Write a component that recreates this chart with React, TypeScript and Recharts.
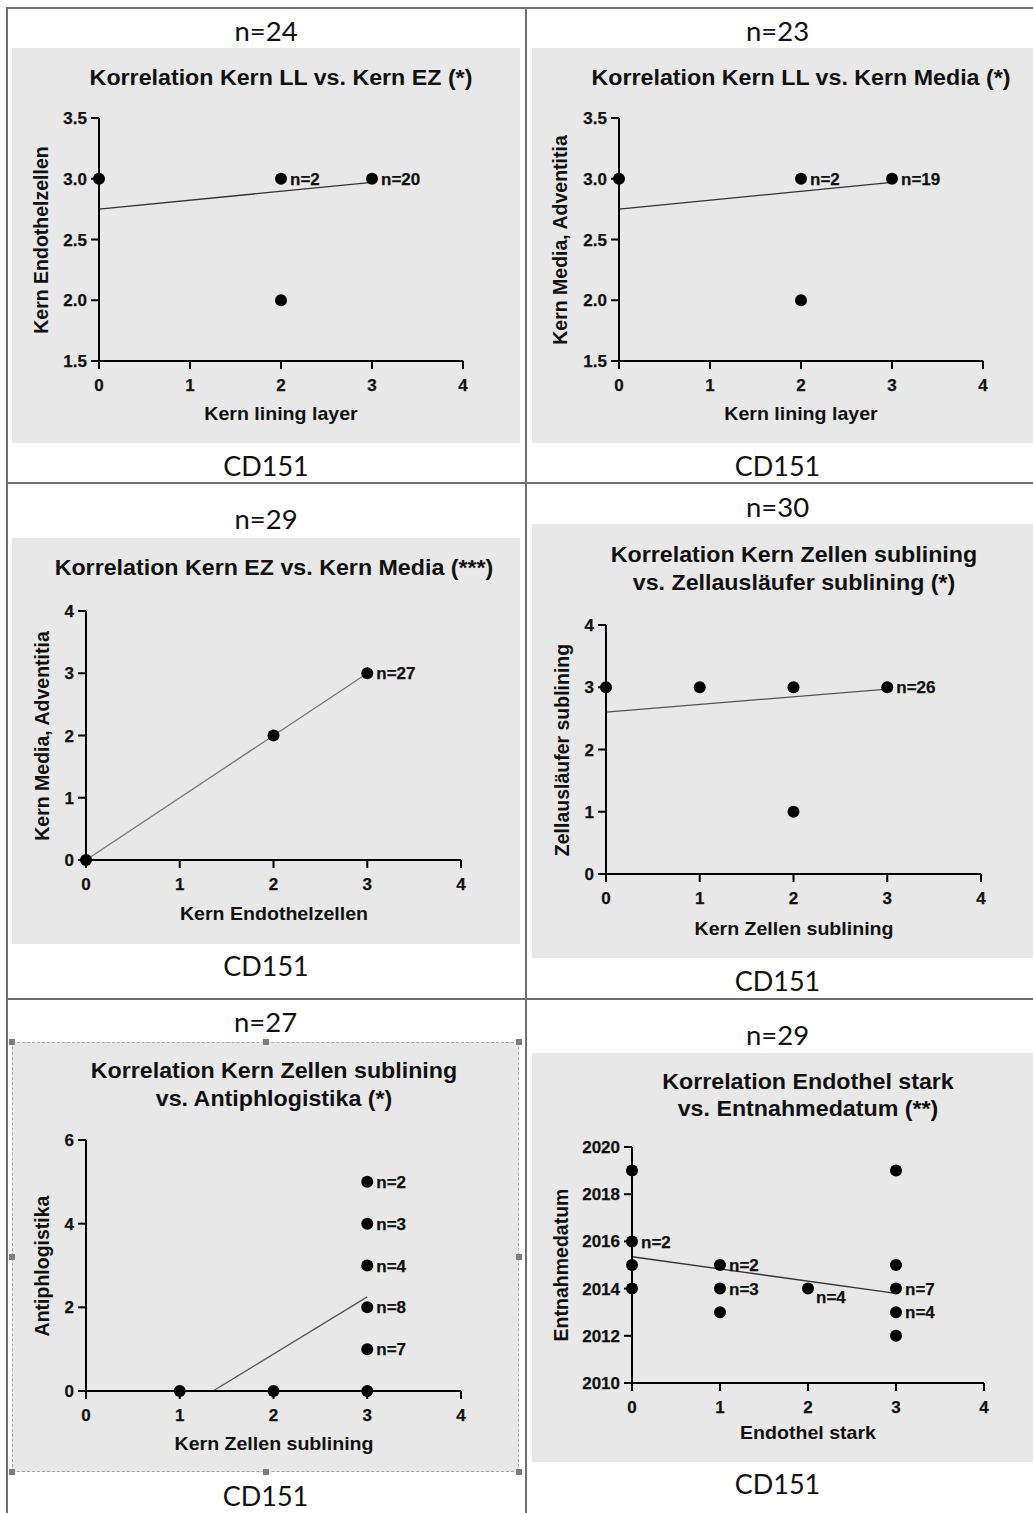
import { ScatterChart, Scatter, XAxis, YAxis, ReferenceLine } from "recharts";

const TICK_FONT = '"Liberation Sans", Arial, sans-serif';
const HEAD_FONT = 'Lato, "Open Sans", sans-serif';

// Kern LL vs. Kern EZ
const llEzX = [0, 2, 3, 2];
const llEzY = [3, 3, 3, 2];
const llEzN = ["", "n=2", "n=20", ""];
const llEzFitX = [0, 3];
const llEzFitY = [2.75, 2.97];

// Kern LL vs. Kern Media
const llMediaX = [0, 2, 3, 2];
const llMediaY = [3, 3, 3, 2];
const llMediaN = ["", "n=2", "n=19", ""];
const llMediaFitX = [0, 3];
const llMediaFitY = [2.75, 2.97];

// Kern EZ vs. Kern Media
const ezMediaX = [0, 2, 3];
const ezMediaY = [0, 2, 3];
const ezMediaN = ["", "", "n=27"];
const ezMediaFitX = [0, 3];
const ezMediaFitY = [0, 3];

// Kern Zellen sublining vs. Zellausläufer sublining
const subZaX = [0, 1, 2, 3, 2];
const subZaY = [3, 3, 3, 3, 1];
const subZaN = ["", "", "", "n=26", ""];
const subZaFitX = [0, 3];
const subZaFitY = [2.6, 2.97];

// Kern Zellen sublining vs. Antiphlogistika
const subAntiX = [1, 2, 3, 3, 3, 3, 3, 3];
const subAntiY = [0, 0, 0, 1, 2, 3, 4, 5];
const subAntiN = ["", "", "", "n=7", "n=8", "n=4", "n=3", "n=2"];
const subAntiFitX = [1.355, 3];
const subAntiFitY = [0, 2.25];

// Endothel stark vs. Entnahmedatum
const endoDateX = [0, 0, 0, 0, 1, 1, 1, 2, 3, 3, 3, 3, 3];
const endoDateY = [2019, 2016, 2015, 2014, 2015, 2014, 2013, 2014, 2019, 2015, 2014, 2013, 2012];
const endoDateN = ["", "n=2", "", "", "n=2", "n=3", "", "n=4", "", "", "n=7", "n=4", ""];
const endoDateFitX = [0, 3];
const endoDateFitY = [2015.35, 2013.8];

const xTicks = [0, 1, 2, 3, 4];

type Panel = {
  header: string;
  footer: string;
  title: string[];
  xLabel: string;
  yLabel: string;
  xs: number[];
  ys: number[];
  ns: string[];
  fitX: number[];
  fitY: number[];
  yDomain: [number, number];
  yTicks: number[];
  decimals: number;
  box: [number, number, number, number];
  plot: [number, number, number, number];
  headerY: number;
  footerY: number;
  titleY: number[];
  xLabelY: number;
  yLabelX: number;
  fitColor: string;
  labelBelow?: number[];
  dashed?: boolean;
};

const panels: Panel[] = [
  {
    header: "n=24", footer: "CD151",
    title: ["Korrelation Kern LL vs. Kern EZ (*)"],
    xLabel: "Kern lining layer", yLabel: "Kern Endothelzellen",
    xs: llEzX, ys: llEzY, ns: llEzN, fitX: llEzFitX, fitY: llEzFitY,
    yDomain: [1.5, 3.5], yTicks: [1.5, 2, 2.5, 3, 3.5], decimals: 1,
    box: [12, 48, 520, 443], plot: [99, 118, 463, 361],
    headerY: 31, footerY: 465, titleY: [79], xLabelY: 413, yLabelX: 42, fitColor: "#333",
  },
  {
    header: "n=23", footer: "CD151",
    title: ["Korrelation Kern LL vs. Kern Media (*)"],
    xLabel: "Kern lining layer", yLabel: "Kern Media, Adventitia",
    xs: llMediaX, ys: llMediaY, ns: llMediaN, fitX: llMediaFitX, fitY: llMediaFitY,
    yDomain: [1.5, 3.5], yTicks: [1.5, 2, 2.5, 3, 3.5], decimals: 1,
    box: [532, 48, 1033, 443], plot: [619, 118, 983, 361],
    headerY: 31, footerY: 465, titleY: [79], xLabelY: 413, yLabelX: 561, fitColor: "#333",
  },
  {
    header: "n=29", footer: "CD151",
    title: ["Korrelation Kern EZ vs. Kern Media (***)"],
    xLabel: "Kern Endothelzellen", yLabel: "Kern Media, Adventitia",
    xs: ezMediaX, ys: ezMediaY, ns: ezMediaN, fitX: ezMediaFitX, fitY: ezMediaFitY,
    yDomain: [0, 4], yTicks: [0, 1, 2, 3, 4], decimals: 0,
    box: [12, 538, 520, 944], plot: [86, 611, 461, 860],
    headerY: 519, footerY: 965, titleY: [569], xLabelY: 913, yLabelX: 43, fitColor: "#777",
  },
  {
    header: "n=30", footer: "CD151",
    title: ["Korrelation Kern Zellen sublining", "vs. Zellausläufer sublining (*)"],
    xLabel: "Kern Zellen sublining", yLabel: "Zellausläufer sublining",
    xs: subZaX, ys: subZaY, ns: subZaN, fitX: subZaFitX, fitY: subZaFitY,
    yDomain: [0, 4], yTicks: [0, 1, 2, 3, 4], decimals: 0,
    box: [532, 524, 1033, 958], plot: [606, 625, 981, 874],
    headerY: 507, footerY: 980, titleY: [556, 584], xLabelY: 928, yLabelX: 563, fitColor: "#555",
  },
  {
    header: "n=27", footer: "CD151",
    title: ["Korrelation Kern Zellen sublining", "vs. Antiphlogistika (*)"],
    xLabel: "Kern Zellen sublining", yLabel: "Antiphlogistika",
    xs: subAntiX, ys: subAntiY, ns: subAntiN, fitX: subAntiFitX, fitY: subAntiFitY,
    yDomain: [0, 6], yTicks: [0, 2, 4, 6], decimals: 0,
    box: [12, 1042, 519, 1472], plot: [86, 1140, 461, 1391],
    headerY: 1022, footerY: 1495, titleY: [1072, 1100], xLabelY: 1443, yLabelX: 43, fitColor: "#555",
    dashed: true,
  },
  {
    header: "n=29", footer: "CD151",
    title: ["Korrelation Endothel stark", "vs. Entnahmedatum (**)"],
    xLabel: "Endothel stark", yLabel: "Entnahmedatum",
    xs: endoDateX, ys: endoDateY, ns: endoDateN, fitX: endoDateFitX, fitY: endoDateFitY,
    yDomain: [2010, 2020], yTicks: [2010, 2012, 2014, 2016, 2018, 2020], decimals: 0,
    box: [532, 1053, 1033, 1462], plot: [632, 1147, 984, 1383],
    headerY: 1035, footerY: 1483, titleY: [1083, 1110], xLabelY: 1432, yLabelX: 562, fitColor: "#333",
    labelBelow: [7],
  },
];

function Txt({ x, y, children, size, bold, font, rotate = 0, sx = 1 }: any) {
  return (
    <div
      style={{
        position: "absolute",
        left: x,
        top: y,
        transform: `translate(-50%, -50%) rotate(${rotate}deg) scaleX(${sx})`,
        whiteSpace: "nowrap",
        fontSize: size,
        fontWeight: bold ? 700 : 400,
        fontFamily: font,
        lineHeight: 1,
        color: "#111",
      }}
    >
      {children}
    </div>
  );
}

const PAD_L = 80;
const PAD_T = 15;
const PAD_R = 50;
const PAD_B = 45;

const tickStyle = {
  fontFamily: TICK_FONT,
  fontWeight: "bold",
  fontSize: 17,
  fill: "#111",
  stroke: "#111",
  strokeWidth: 0.25,
};

function ScatterPanel({ p }: { p: Panel }) {
  const [pl, pt, pr, pb] = p.plot;
  const [bl, bt, br, bb] = p.box;
  const data = p.xs.map((x, i) => ({ x, y: p.ys[i], n: p.ns[i], i }));
  const below = p.labelBelow || [];
  const cx = (pl + pr) / 2;
  const cy = (pt + pb) / 2;
  const mid = (bl + br) / 2 + (bl < 500 ? 0 : -5);

  const dot = (props: any) => {
    const { cx: px, cy: py, payload } = props;
    const isBelow = below.includes(payload.i);
    return (
      <g>
        <circle cx={px} cy={py} r={6} fill="#000" />
        {payload.n ? (
          <text
            x={px + (isBelow ? 8 : 9)}
            y={py + (isBelow ? 8 : 0)}
            dy="0.36em"
            fontFamily={TICK_FONT}
            fontWeight="bold"
            fontSize={17}
            fill="#111"
            stroke="#111"
            strokeWidth={0.25}
          >
            {payload.n}
          </text>
        ) : null}
      </g>
    );
  };

  const handles = p.dashed
    ? [
        [bl, bt], [(bl + br) / 2, bt], [br, bt],
        [bl, (bt + bb) / 2], [br, (bt + bb) / 2],
        [bl, bb], [(bl + br) / 2, bb], [br, bb],
      ]
    : [];

  return (
    <>
      <div
        style={{
          position: "absolute",
          left: bl,
          top: bt,
          width: br - bl,
          height: bb - bt,
          background: "#e8e8e8",
          boxSizing: "border-box",
          border: p.dashed ? "1px dashed #a8a8a8" : "none",
        }}
      />
      {handles.map(([hx, hy], k) => (
        <div
          key={k}
          style={{
            position: "absolute",
            left: hx - 3,
            top: hy - 3,
            width: 6,
            height: 6,
            background: "#7d7d7d",
          }}
        />
      ))}
      <Txt x={mid} y={p.headerY} size={27.5} font={HEAD_FONT}>
        {p.header}
      </Txt>
      <Txt x={mid} y={p.footerY} size={27} font={HEAD_FONT}>
        {p.footer}
      </Txt>
      {p.title.map((t, k) => (
        <Txt key={k} x={cx} y={p.titleY[k]} size={21.5} bold font={TICK_FONT} sx={1.08}>
          {t}
        </Txt>
      ))}
      <Txt x={cx} y={p.xLabelY} size={19} bold font={TICK_FONT} sx={1.03}>
        {p.xLabel}
      </Txt>
      <Txt x={p.yLabelX} y={cy} size={19.5} bold font={TICK_FONT} rotate={-90}>
        {p.yLabel}
      </Txt>
      <div style={{ position: "absolute", left: pl - PAD_L, top: pt - PAD_T }}>
        <ScatterChart
          width={pr - pl + PAD_L + PAD_R}
          height={pb - pt + PAD_T + PAD_B}
          margin={{ top: PAD_T, right: PAD_R, bottom: 0, left: 0 }}
        >
          <XAxis
            type="number"
            dataKey="x"
            domain={[0, 4]}
            ticks={xTicks}
            interval={0}
            height={PAD_B}
            axisLine={{ stroke: "#000", strokeWidth: 2 }}
            tickLine={{ stroke: "#000", strokeWidth: 2 }}
            tickSize={8}
            tickMargin={10}
            tick={tickStyle}
          />
          <YAxis
            type="number"
            dataKey="y"
            domain={p.yDomain}
            ticks={p.yTicks}
            interval={0}
            width={PAD_L}
            axisLine={{ stroke: "#000", strokeWidth: 2 }}
            tickLine={{ stroke: "#000", strokeWidth: 2 }}
            tickSize={8}
            tickMargin={4}
            tickFormatter={(v: number) => v.toFixed(p.decimals)}
            tick={tickStyle}
          />
          <ReferenceLine
            segment={[
              { x: p.fitX[0], y: p.fitY[0] },
              { x: p.fitX[1], y: p.fitY[1] },
            ]}
            stroke={p.fitColor}
            strokeWidth={1.3}
          />
          <Scatter data={data} shape={dot} isAnimationActive={false} />
        </ScatterChart>
      </div>
    </>
  );
}

export default function App() {
  const line = "#707070";
  return (
    <div
      style={{
        position: "absolute",
        left: 0,
        top: 0,
        width: 1033,
        height: 1513,
        background: "#fff",
        overflow: "hidden",
      }}
    >
      <div style={{ position: "absolute", left: 6, top: 7, width: 2, height: 1506, background: line }} />
      <div style={{ position: "absolute", left: 6, top: 7, width: 1027, height: 2, background: line }} />
      <div style={{ position: "absolute", left: 525, top: 7, width: 2, height: 1506, background: line }} />
      <div style={{ position: "absolute", left: 6, top: 482, width: 1027, height: 2, background: line }} />
      <div style={{ position: "absolute", left: 6, top: 998, width: 1027, height: 2, background: line }} />
      {panels.map((p, k) => (
        <ScatterPanel key={k} p={p} />
      ))}
    </div>
  );
}
